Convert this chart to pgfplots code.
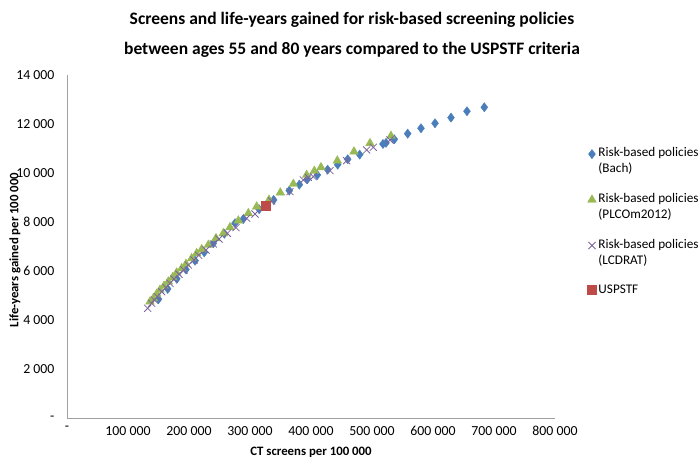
\documentclass[border=0pt]{standalone}
\usepackage{pgfplots}
\pgfplotsset{compat=1.18}
\usepackage{fontspec}
\setmainfont{Carlito}
\definecolor{cblue}{RGB}{74,126,187}
\definecolor{cgreen}{RGB}{152,185,84}
\definecolor{cpurple}{RGB}{126,100,158}
\definecolor{cred}{RGB}{190,75,72}
\definecolor{axgray}{RGB}{160,160,160}
\begin{document}
\begin{tikzpicture}
\path[use as bounding box] (0pt,0pt) rectangle (700pt,462pt);
\node[font=\bfseries\fontsize{17.5}{30}\selectfont, align=center] at (352pt,427pt) {Screens and life-years gained for risk-based screening policies\\between ages 55 and 80 years compared to the USPSTF criteria};
\begin{axis}[
  at={(67pt,44pt)}, anchor=south west,
  scale only axis, width=488pt, height=343pt,
  xmin=0, xmax=800000, ymin=0, ymax=14000,
  axis lines*=left,
  axis line style={draw=axgray, line width=0.8pt, -},
  major tick length=0pt,
  scaled ticks=false,
  xtick={0,100000,...,800000},
  xticklabels={-,100 000,200 000,300 000,400 000,500 000,600 000,700 000,800 000},
  ytick={0,2000,...,14000},
  yticklabels={-,2 000,4 000,6 000,8 000,10 000,12 000,14 000},
  ticklabel style={font=\fontsize{13.8}{16}\selectfont},
  xticklabel style={yshift=-5pt},
  yticklabel style={xshift=-9pt},
  legend style={at={(1.06,0.80)}, anchor=north west, draw=none, fill=none,
    font=\fontsize{13.2}{16}\selectfont, row sep=15pt, cells={align=left}},
  legend cell align=left,
]
\addplot[only marks, mark=diamond*, mark size=4.6pt, color=cblue, legend image post style={yshift=7pt}] coordinates {
(150000,4850) (165000,5270) (180000,5680) (195000,6060) (210000,6420) (225000,6760)
(239800,7130) (258000,7520) (275400,7950) (289000,8120) (315000,8520) (338800,8900)
(364400,9280) (380900,9525) (393900,9745) (410400,9920) (427300,10135) (443700,10340)
(460100,10560) (479800,10750) (518000,11185) (523000,11230) (536600,11375) (558500,11605)
(580300,11825) (603300,12030) (629500,12260) (655700,12520) (684100,12683)};
\addlegendentry{Risk-based policies\\(Bach)}
\addplot[only marks, mark=triangle*, mark size=5pt, color=cgreen, legend image post style={yshift=7pt}] coordinates {
(136060,4749) (141530,4885) (147000,5062) (152450,5225) (159010,5388) (166110,5565)
(173220,5742) (179780,5932) (187980,6110) (195080,6286) (204370,6518) (212570,6722)
(220770,6885) (231690,7062) (244260,7334) (256280,7538) (267210,7783) (280870,8055)
(297260,8355) (310930,8627) (331140,8899) (349720,9198) (371030,9552) (392890,9919)
(405460,10083) (416380,10232) (443150,10504) (470480,10872) (496710,11212) (531130,11511)};
\addlegendentry{Risk-based policies\\(PLCOm2012)}
\addplot[only marks, mark=x, mark size=5pt, line width=0.8pt, color=cpurple, legend image post style={yshift=7pt}] coordinates {
(132240,4477) (138800,4681) (143170,4817) (148080,4953) (155190,5157) (162290,5320)
(168850,5497) (175410,5674) (183600,5865) (191800,6041) (198900,6245) (208200,6450)
(215850,6640) (227860,6858) (239880,7103) (249170,7307) (262830,7538) (277040,7769)
(294530,8150) (308190,8327) (335510,8858) (365560,9239) (387420,9715) (395620,9824)
(403810,9850) (431140,10096) (458460,10504) (491250,10940) (502180,11049) (529490,11348)};
\addlegendentry{Risk-based policies\\(LCDRAT)}
\addplot[only marks, mark=square*, mark size=4.5pt, color=cred] coordinates {(326200,8655)};
\addlegendentry{USPSTF}
\end{axis}
\node[font=\bfseries\fontsize{12.8}{15}\selectfont] at (311pt,10pt) {CT screens per 100 000};
\node[font=\bfseries\fontsize{12.8}{15}\selectfont, rotate=90] at (15pt,212pt) {Life-years gained per 100 000};
\end{tikzpicture}
\end{document}
